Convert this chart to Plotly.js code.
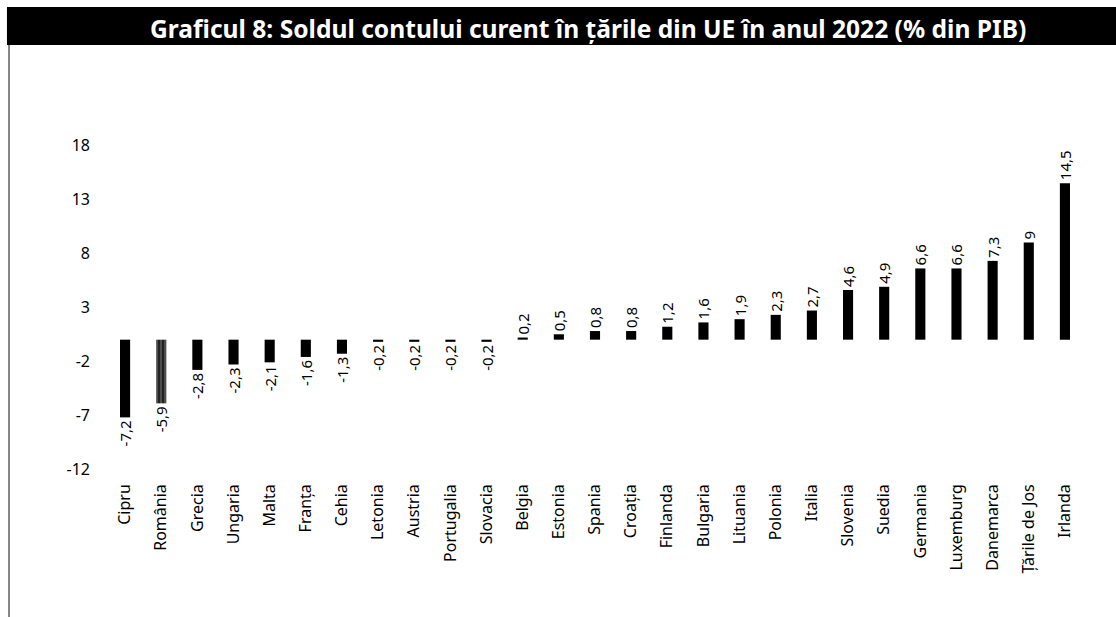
<!DOCTYPE html>
<html>
<head>
<meta charset="utf-8">
<script src="https://cdn.plot.ly/plotly-3.0.1.min.js"></script>
<style>html,body{margin:0;padding:0;background:#fff;}#chart{width:1116px;height:617px;}</style>
</head>
<body>
<div id="chart"></div>
<script>
const countries = ["Cipru","România","Grecia","Ungaria","Malta","Franța","Cehia","Letonia","Austria","Portugalia","Slovacia","Belgia","Estonia","Spania","Croația","Finlanda","Bulgaria","Lituania","Polonia","Italia","Slovenia","Suedia","Germania","Luxemburg","Danemarca","Țările de Jos","Irlanda"];
const balance = [-7.2,-5.9,-2.8,-2.3,-2.1,-1.6,-1.3,-0.2,-0.2,-0.2,-0.2,0.2,0.5,0.8,0.8,1.2,1.6,1.9,2.3,2.7,4.6,4.9,6.6,6.6,7.3,9,14.5];
const yTicks = [-12,-7,-2,3,8,13,18];
const titleText = "Graficul 8: Soldul contului curent în țările din UE în anul 2022 (% din PIB)";
const highlight = "România";

const font = "'Noto Sans', 'Open Sans', sans-serif";
const labels = balance.map(v => String(v).replace('.', ','));
const colors = countries.map(c => c === highlight ? '#222222' : '#000000');
const patterns = countries.map(c => c === highlight ? '|' : '');

const trace = {
  type: 'bar',
  x: countries,
  y: balance,
  width: 0.28,
  marker: {color: colors, line: {width: 0}, pattern: {shape: patterns, fillmode: 'overlay', fgcolor: '#9a9a9a', size: 4, solidity: 0.2}},
  text: labels,
  textposition: 'outside',
  textangle: -90,
  constraintext: 'none',
  cliponaxis: false,
  textfont: {family: font, size: 15, color: '#000'},
  hoverinfo: 'skip'
};

const layout = {
  width: 1116, height: 617,
  margin: {l: 107, r: 33, t: 113, b: 137},
  paper_bgcolor: '#fff', plot_bgcolor: '#fff',
  showlegend: false,
  xaxis: {type: 'category', tickangle: -90, showgrid: false, zeroline: false, showline: false, ticks: '',
          tickfont: {family: font, size: 16, color: '#000'}},
  yaxis: {range: [-13, 21], tickvals: yTicks, ticktext: yTicks.map(String), showgrid: false, zeroline: false, showline: false,
          ticks: '', ticklabelstandoff: 16, tickfont: {family: font, size: 16, color: '#000'}},
  shapes: [
    {type: 'rect', xref: 'paper', yref: 'paper', x0: -0.1025, x1: 1.04, y0: 1.1853, y1: 1.2888, fillcolor: '#000', line: {width: 0}, layer: 'below'},
    {type: 'line', xref: 'paper', yref: 'paper', x0: -0.1004, x1: -0.1004, y0: 1.1853, y1: -0.38, line: {color: '#333', width: 1.2}}
  ],
  annotations: [
    {text: '<b>' + titleText + '</b>', xref: 'paper', yref: 'paper', x: 0.493, y: 1.231, xanchor: 'center', yanchor: 'middle', showarrow: false,
     font: {family: font, size: 24.6, color: '#fff'}}
  ]
};

Plotly.newPlot('chart', [trace], layout, {displayModeBar: false, staticPlot: true});
</script>
</body>
</html>
